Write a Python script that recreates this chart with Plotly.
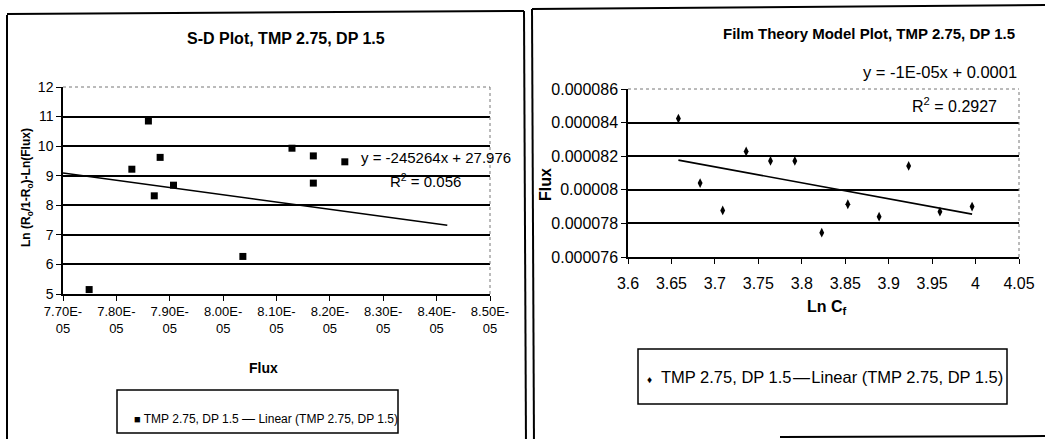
import numpy as np
import plotly.graph_objects as go

W, H = 1045, 439
FONT = "Arial, Liberation Sans, sans-serif"

# ---------------- data: S-D plot (left) ----------------
sd_flux = [7.749e-5, 7.829e-5, 7.860e-5, 7.871e-5, 7.882e-5, 7.907e-5,
           8.037e-5, 8.129e-5, 8.169e-5, 8.169e-5, 8.228e-5]
sd_lnval = [5.15, 9.22, 10.85, 8.32, 9.62, 8.68, 6.27, 9.93, 9.67, 8.75, 9.47]
sd_trend_slope = -245264.0
sd_trend_intercept = 27.976
sd_trend_xspan = [7.70e-5, 8.42e-5]
sd_xticks = [7.7e-5, 7.8e-5, 7.9e-5, 8.0e-5, 8.1e-5, 8.2e-5, 8.3e-5, 8.4e-5, 8.5e-5]
sd_yticks = [5, 6, 7, 8, 9, 10, 11, 12]
sd_eq_text = "y = -245264x + 27.976"
sd_r2_text = "R<sup>2</sup> = 0.056"

# ---------------- data: Film theory plot (right) ----------------
ft_lncf = [3.658, 3.683, 3.709, 3.736, 3.764, 3.792, 3.823, 3.853, 3.889, 3.923, 3.959, 3.996]
ft_flux = [8.424e-5, 8.040e-5, 7.877e-5, 8.228e-5, 8.172e-5, 8.172e-5,
           7.745e-5, 7.914e-5, 7.840e-5, 8.142e-5, 7.870e-5, 7.900e-5]
ft_xticks = [3.6, 3.65, 3.7, 3.75, 3.8, 3.85, 3.9, 3.95, 4.0, 4.05]
ft_xticklabels = ["3.6", "3.65", "3.7", "3.75", "3.8", "3.85", "3.9", "3.95", "4", "4.05"]
ft_yticks = [7.6e-5, 7.8e-5, 8.0e-5, 8.2e-5, 8.4e-5, 8.6e-5]
ft_eq_text = "y = -1E-05x + 0.0001"
ft_r2_text = "R<sup>2</sup> = 0.2927"

series_name = "TMP 2.75, DP 1.5"
trend_name = "Linear (TMP 2.75, DP 1.5)"


def px(x):
    return x / W


def py(y):
    return 1 - y / H


# trend lines
sd_tx = np.array(sd_trend_xspan)
sd_ty = sd_trend_slope * sd_tx + sd_trend_intercept
ft_coef = np.polyfit(ft_lncf, ft_flux, 1)
ft_tx = np.array([min(ft_lncf), max(ft_lncf)])
ft_ty = np.polyval(ft_coef, ft_tx)

sd_ticktext = [f"{v:.2E}".replace("E-", "E-<br>") for v in sd_xticks]

fig = go.Figure()
fig.add_trace(go.Scatter(x=sd_flux, y=sd_lnval, mode="markers", name=series_name,
                         marker=dict(symbol="square", size=7, color="black"),
                         xaxis="x", yaxis="y", showlegend=False))
fig.add_trace(go.Scatter(x=sd_tx, y=sd_ty, mode="lines", name=trend_name,
                         line=dict(color="black", width=1.6),
                         xaxis="x", yaxis="y", showlegend=False))
fig.add_trace(go.Scatter(x=ft_lncf, y=ft_flux, mode="markers", name=series_name,
                         marker=dict(symbol="diamond-tall", size=7, color="black"),
                         xaxis="x2", yaxis="y2", showlegend=False))
fig.add_trace(go.Scatter(x=ft_tx, y=ft_ty, mode="lines", name=trend_name,
                         line=dict(color="black", width=1.6),
                         xaxis="x2", yaxis="y2", showlegend=False))


def axis_style(size):
    return dict(showline=True, linecolor="black", linewidth=1.5, ticks="outside",
                ticklen=5, tickcolor="black", tickwidth=1.2, zeroline=False,
                automargin=False, tickfont=dict(family=FONT, size=size, color="black"))


fig.update_layout(
    template="none",
    width=W, height=H,
    margin=dict(l=0, r=0, t=0, b=0, autoexpand=False),
    paper_bgcolor="white", plot_bgcolor="white",
    font=dict(family=FONT, color="black"),
    showlegend=False,
    xaxis=dict(domain=[px(63), px(490)], range=[sd_xticks[0], sd_xticks[-1]],
               tickvals=sd_xticks, ticktext=sd_ticktext, showgrid=False,
               anchor="y", **axis_style(13)),
    yaxis=dict(domain=[py(294), py(87)], range=[sd_yticks[0], sd_yticks[-1]],
               tickvals=sd_yticks, showgrid=True, gridcolor="black", gridwidth=1.5,
               anchor="x", **axis_style(14)),
    xaxis2=dict(domain=[px(628), px(1019)], range=[ft_xticks[0], ft_xticks[-1]],
                tickvals=ft_xticks, ticktext=ft_xticklabels, showgrid=False,
                ticklabelstandoff=6, anchor="y2", **axis_style(16)),
    yaxis2=dict(domain=[py(257), py(89)], range=[ft_yticks[0], ft_yticks[-1]],
                tickvals=ft_yticks, tickformat=".6~f", showgrid=True, gridcolor="black",
                gridwidth=1.5, anchor="x2", **axis_style(16)),
)

# plot-area borders: dashed gray top and right
shapes = []
for xr, yr in (("x domain", "y domain"), ("x2 domain", "y2 domain")):
    shapes.append(dict(type="line", xref=xr, yref=yr, x0=0.003, x1=1, y0=1, y1=1,
                       line=dict(color="white", width=3), layer="above"))
    shapes.append(dict(type="line", xref=xr, yref=yr, x0=0, x1=1, y0=1, y1=1,
                       line=dict(color="#777777", width=1, dash="dot"), layer="above"))
    shapes.append(dict(type="line", xref=xr, yref=yr, x0=1, x1=1, y0=0, y1=1,
                       line=dict(color="#777777", width=1, dash="dot"), layer="above"))

# panel frames and legend boxes
shapes += [
    dict(type="line", xref="paper", yref="paper", x0=px(7), x1=px(7), y0=-0.02, y1=py(15),
         line=dict(color="black", width=2)),
    dict(type="line", xref="paper", yref="paper", x0=px(7), x1=px(524), y0=py(14), y1=py(11),
         line=dict(color="black", width=2)),
    dict(type="line", xref="paper", yref="paper", x0=px(524), x1=px(526), y0=py(11), y1=-0.02,
         line=dict(color="black", width=2)),
    dict(type="line", xref="paper", yref="paper", x0=px(532), x1=px(534), y0=py(9), y1=-0.02,
         line=dict(color="black", width=2)),
    dict(type="line", xref="paper", yref="paper", x0=px(532), x1=1.01, y0=py(9), y1=py(5),
         line=dict(color="black", width=2)),
    dict(type="line", xref="paper", yref="paper", x0=px(780), x1=1.01, y0=py(437), y1=py(436),
         line=dict(color="black", width=2)),
    dict(type="rect", xref="paper", yref="paper", x0=px(117), x1=px(398), y0=py(433), y1=py(390),
         line=dict(color="black", width=1.5)),
    dict(type="rect", xref="paper", yref="paper", x0=px(638), x1=px(1007), y0=py(404), y1=py(349),
         line=dict(color="black", width=1.5)),
]
fig.update_layout(shapes=shapes)


def ann(text, x, y, size, bold=False, angle=0, xanchor="center"):
    return dict(text=f"<b>{text}</b>" if bold else text, xref="paper", yref="paper",
                x=px(x), y=py(y), xanchor=xanchor, yanchor="middle", showarrow=False,
                textangle=angle, font=dict(family=FONT, size=size, color="black"))


sd_legend = (f'<span style="font-size:11px">■</span> {series_name} '
             f'<span style="font-size:13px">—</span> {trend_name}')
ft_legend = (f'<span style="font-size:10px">♦</span>  {series_name}\u200a'
             f'<span style="font-size:17px">—</span>\u200a{trend_name}')

fig.update_layout(annotations=[
    ann("S-D Plot, TMP 2.75, DP 1.5", 286, 38, 16, bold=True),
    ann("Film Theory Model Plot, TMP 2.75, DP 1.5", 869, 33, 15, bold=True),
    ann("Flux", 263, 368, 14, bold=True),
    ann("Ln (R<sub>o</sub>/1-R<sub>o</sub>)-Ln(Flux)", 27, 188, 12, bold=True, angle=-90),
    ann(sd_eq_text, 436, 157, 15),
    ann(sd_r2_text, 425, 181, 15),
    ann(ft_eq_text, 940, 72, 16.5),
    ann(ft_r2_text, 954, 105, 16),
    ann("Ln C<sub>f</sub>", 827, 307, 16, bold=True),
    ann("Flux", 545, 185, 16, bold=True, angle=-90),
    ann(sd_legend, 266, 418, 12),
    ann(ft_legend, 825, 377, 16.5),
])

fig.write_html("out.html", config={"displayModeBar": False},
               post_script="document.body.style.margin='0px';document.body.style.overflow='hidden';")
